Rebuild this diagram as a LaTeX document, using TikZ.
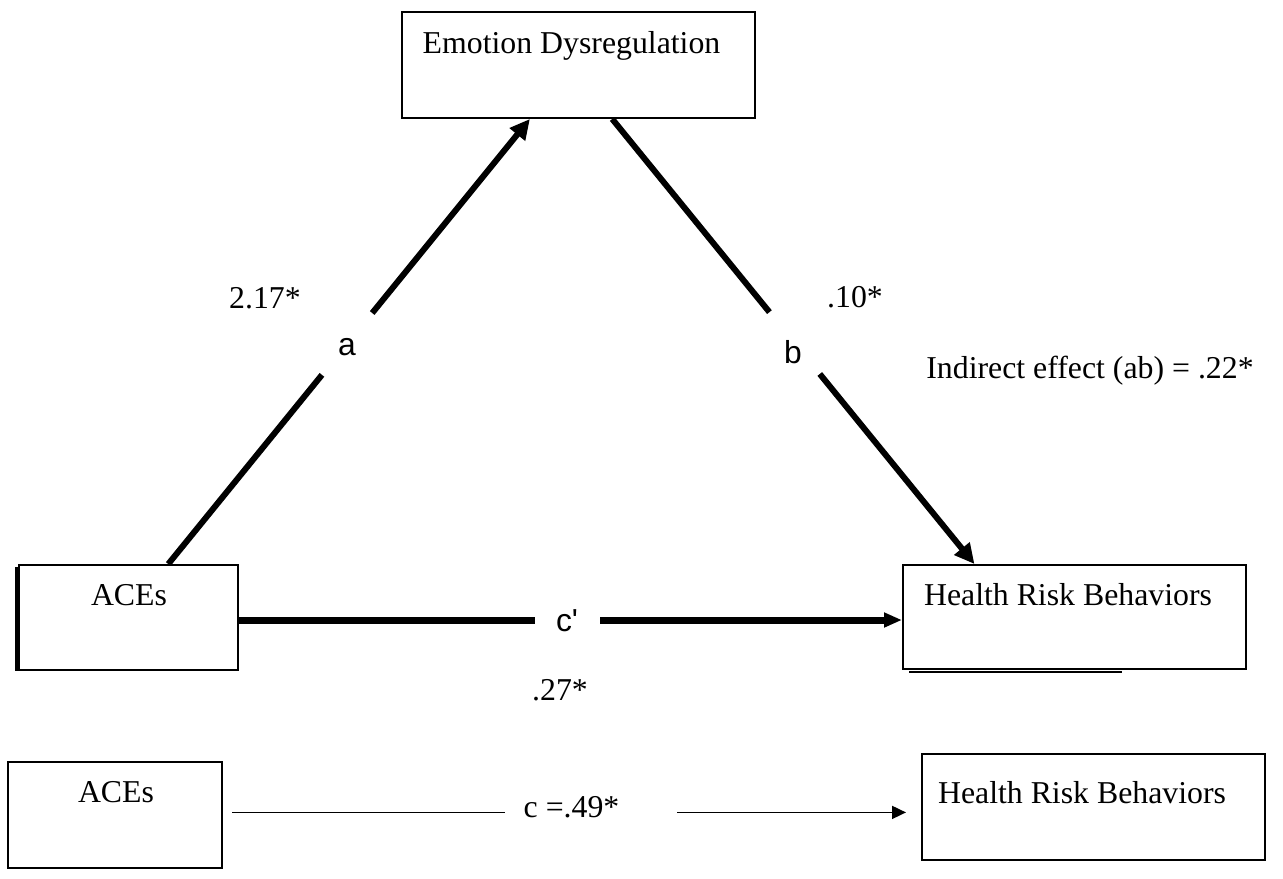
\documentclass[tikz,border=0pt]{standalone}
\usepackage{fontspec}
\setmainfont{Liberation Serif}
\newfontfamily\arialfont{Liberation Sans}
\usetikzlibrary{arrows.meta,calc}
\begin{document}
\begin{tikzpicture}[x=0.5pt,y=-0.5pt,
  box/.style={draw,line width=1pt,rectangle,inner sep=0pt},
  txt/.style={inner sep=0pt,anchor=base,font=\fontsize{15.9}{19}\selectfont},
  stxt/.style={inner sep=0pt,font=\arialfont\fontsize{15.9}{19}\selectfont},
  heavy/.style={line width=3pt},
  heavyarrow/.style={line width=3pt,-{Triangle[length=10pt,width=9.5pt]}},
  thinline/.style={line width=0.9pt},
  thinarrow/.style={line width=0.9pt,-{Triangle[length=7pt,width=6.5pt]}}]
\useasboundingbox (0,0) rectangle (1283,878);

% boxes
\node[box,minimum width=176.5pt,minimum height=53pt] (ed) at (578.5,65) {};
\node[box,minimum width=109.5pt,minimum height=52.5pt] (aceT) at (128.5,617.5) {};
\node[box,minimum width=171.5pt,minimum height=52pt] (hrbT) at (1074.5,617) {};
\node[box,minimum width=107pt,minimum height=53pt] (aceB) at (115,815) {};
\node[box,minimum width=171.5pt,minimum height=53pt] (hrbB) at (1093.5,807) {};

% box texts
\node[txt] (edtxt) at (571.5,53) {Emotion Dysregulation};
\node[txt] (aceTtxt) at (129,605) {ACEs};
\node[txt] (hrbTtxt) at (1068,605) {Health Risk Behaviors};
\node[txt] (aceBtxt) at (116,802) {ACEs};
\node[txt] (hrbBtxt) at (1082,803) {Health Risk Behaviors};

% small artefact lines of the boxes
\draw[line width=1.2pt] ([xshift=-0.75pt,yshift=-1.5pt]aceT.north west) -- ([xshift=-0.75pt]aceT.south west);
\draw[line width=1pt] ([xshift=3.5pt,yshift=-1pt]hrbT.south west) -- ([xshift=110pt,yshift=-1pt]hrbT.south west);

% path a
\coordinate (aS) at ($(aceT.north west)!0.680!(aceT.north east)$);
\coordinate (aE) at ($(ed.south west)!0.363!(ed.south east)$);
\draw[heavy] (aS) -- ($(aS)!0.425!(aE)$);
\draw[heavyarrow] ($(aS)!0.564!(aE)$) -- (aE);
\node[stxt] (alab) at (347,347) {a};

% path b
\coordinate (bS) at ($(ed.south west)!0.595!(ed.south east)$);
\coordinate (bE) at ($(hrbT.north west)!0.210!(hrbT.north east)$);
\draw[heavy] (bS) -- ($(bS)!0.434!(bE)$);
\draw[heavyarrow] ($(bS)!0.573!(bE)$) -- (bE);
\node[stxt] (blab) at (793,352) {b};

% path c'
\node[stxt] (cplab) at (567,621) {c'};
\draw[line width=3.5pt] (aceT.east |- 0,620) -- (535,620);
\draw[line width=3.5pt,-{Triangle[length=9pt,width=7pt]}] (600,620) -- (hrbT.west |- 0,620);

% coefficients
\node[txt] (coefa) at (265,308) {2.17*};
\node[txt] (coefb) at (855,307) {.10*};
\node[txt] (ind) at (1090,378) {Indirect effect (ab) = .22*};
\node[txt] (coefc) at (560,700) {.27*};

% total effect
\node[txt] (clab) at (571.5,817) {c =.49*};
\draw[thinline] ([xshift=4.5pt]aceB.east |- clab.mid) -- (505,0 |- clab.mid);
\draw[thinarrow] (677,0 |- clab.mid) -- ([xshift=-7.5pt]hrbB.west |- clab.mid);
\end{tikzpicture}
\end{document}
